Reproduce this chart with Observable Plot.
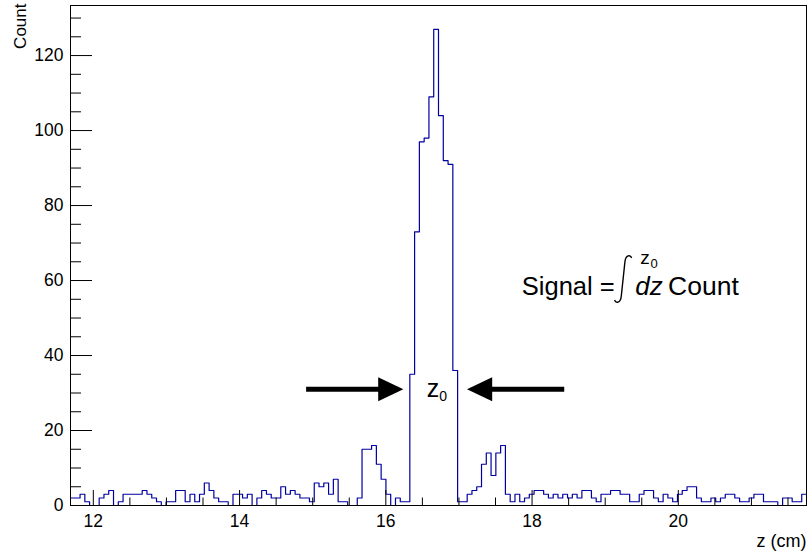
<!DOCTYPE html>
<html>
<head>
<meta charset="utf-8">
<script src="https://cdn.jsdelivr.net/npm/d3@7"></script>
<script src="https://cdn.jsdelivr.net/npm/@observablehq/plot@0.6"></script>
<style>
  html, body { margin: 0; padding: 0; background: #fff; }
  #chart svg { display: block; }
</style>
</head>
<body>
<div id="chart"></div>
<script>
// Histogram range (uniform bins between zLow and zHigh, in cm)
const zLow = 11.688;
const zHigh = 21.753;

// Entries per bin, left to right
const counts = [
  2, 2, 3, 1, 0, 0, 2, 3, 4, 0,
  1, 3, 3, 3, 3, 4, 3, 2, 1, 0,
  1, 1, 4, 4, 1, 3, 1, 3, 6, 4,
  2, 1, 1, 0, 3, 3, 2, 3, 0, 2,
  4, 3, 2, 2, 5, 3, 4, 3, 2, 2,
  1, 6, 5, 6, 3, 7, 1, 1, 0, 0,
  2, 15, 15, 16, 11, 7, 3, 0, 2, 1,
  1, 35, 73, 97, 98, 109, 127, 104, 92, 91,
  36, 1, 1, 3, 4, 5, 11, 14, 8, 14,
  16, 3, 1, 3, 1, 2, 3, 4, 4, 3,
  2, 3, 2, 3, 2, 3, 2, 4, 4, 2,
  1, 3, 3, 4, 4, 3, 3, 1, 1, 3,
  4, 4, 2, 1, 3, 2, 1, 3, 4, 5,
  5, 2, 1, 1, 2, 1, 2, 3, 3, 2,
  1, 1, 2, 3, 3, 1, 1, 1, 0, 2,
  2, 1, 1, 3
];

// Axis tick values
const xMajorTicks = [12, 14, 16, 18, 20];
const xMinorTicks = [12.5, 13, 13.5, 14.5, 15, 15.5, 16.5, 17, 17.5, 18.5, 19, 19.5, 20.5, 21, 21.5];
const yMajorTicks = [0, 20, 40, 60, 80, 100, 120];
const yMinorTicks = [5, 10, 15, 25, 30, 35, 45, 50, 55, 65, 70, 75, 85, 90, 95, 105, 110, 115, 125, 130];

// Window arrows around the peak
const arrowTail = [14.91, 18.44];
const arrowNeck = [15.95, 17.40];
const arrowTip = [16.24, 17.11];
const arrowLevel = [31, 31];
const arrowAngle = [0, 180];

// Text annotations
const noteText = ["Signal =", "dz", "Count", "z", "0", "z", "0"];
const noteZ = [17.86, 19.41, 19.86, 19.48, 19.62, 16.56, 16.73];
const noteN = [56.1, 56.1, 56.1, 64.3, 63.4, 29.0, 27.9];
const noteSize = [25.5, 26, 26.5, 19, 13, 25, 14];
const noteItalic = [false, true, false, false, false, false, false];
// integral sign position
const integralZ = 19.245;
const integralN = 60.4;

// ---- derived tables ----
const nBins = counts.length;
const binWidth = (zHigh - zLow) / nBins;
const steps = counts.map((n, i) => ({z: zLow + i * binWidth, n}));
steps.push({z: zHigh, n: counts[nBins - 1]});
const yMax = 1.05 * d3.max(counts);

const arrows = arrowTail.map((t, i) => ({
  tail: t, neck: arrowNeck[i], tip: arrowTip[i], level: arrowLevel[i], angle: arrowAngle[i]
}));
const notes = noteText.map((t, i) => ({
  text: t, z: noteZ[i], n: noteN[i], size: noteSize[i], italic: noteItalic[i]
}));

// filled triangular arrow head, tip at the origin pointing along +x
const arrowHead = {
  draw(ctx, size) {
    const r = Math.sqrt(size / Math.PI);
    ctx.moveTo(0, 0);
    ctx.lineTo(-2.1 * r, -r);
    ctx.lineTo(-2.1 * r, r);
    ctx.closePath();
  }
};

// thin integral sign, scaled by the dot radius (half height)
const integralSign = {
  draw(ctx, size) {
    const h = Math.sqrt(size / Math.PI);
    const k = h / 24;
    ctx.moveTo(8.5 * k, -21 * k);
    ctx.bezierCurveTo(7.5 * k, -24.5 * k, 2.5 * k, -24.5 * k, 1.8 * k, -17 * k);
    ctx.lineTo(-1.8 * k, 17 * k);
    ctx.bezierCurveTo(-2.5 * k, 24.5 * k, -7.5 * k, 24.5 * k, -8.5 * k, 21 * k);
  }
};

const W = 809, H = 554;
const mL = 70, mR = 3, mT = 5, mB = 49;
const fw = W - mL - mR, fh = H - mT - mB;

const chart = Plot.plot({
  width: W,
  height: H,
  marginLeft: mL,
  marginRight: mR,
  marginTop: mT,
  marginBottom: mB,
  x: {domain: [zLow, zHigh]},
  y: {domain: [0, yMax]},
  style: {
    fontFamily: "'Liberation Sans', Arial, Helvetica, sans-serif",
    background: "white",
    color: "black",
    overflow: "visible"
  },
  marks: [
    Plot.axisX(xMajorTicks, {tickSize: 0, tickPadding: 9, fontSize: 17.5, label: null, tickFormat: d => String(d)}),
    Plot.axisY(yMajorTicks, {tickSize: 0, tickPadding: 7, fontSize: 17.5, label: null, tickFormat: d => String(d)}),
    Plot.line(steps, {x: "z", y: "n", curve: "step-after", stroke: "#0000a0", strokeWidth: 1.2}),
    Plot.ruleX(xMajorTicks, {insetTop: fh - 15, stroke: "black"}),
    Plot.ruleX(xMinorTicks, {insetTop: fh - 7.5, stroke: "black"}),
    Plot.ruleY(yMajorTicks, {insetRight: fw - 22, stroke: "black"}),
    Plot.ruleY(yMinorTicks, {insetRight: fw - 11, stroke: "black"}),
    Plot.frame({stroke: "black"}),
    // axis titles
    Plot.text(["z (cm)"], {frameAnchor: "bottom-right", dy: 41, textAnchor: "end", lineAnchor: "bottom", fontSize: 18}),
    Plot.text(["Count"], {frameAnchor: "top-left", dx: -45, dy: -2, rotate: -90, textAnchor: "end", lineAnchor: "bottom", fontSize: 17}),
    // arrows
    Plot.link(arrows, {x1: "tail", x2: "neck", y1: "level", y2: "level", stroke: "black", strokeWidth: 5}),
    Plot.dot(arrows, {x: "tip", y: "level", r: 12, symbol: arrowHead, fill: "black", stroke: "none", rotate: "angle"}),
    // annotations
    Plot.text(notes, {filter: d => !d.italic, x: "z", y: "n", text: "text", fontSize: "size", textAnchor: "start", lineAnchor: "bottom"}),
    Plot.text(notes, {filter: d => d.italic, x: "z", y: "n", text: "text", fontSize: "size", fontStyle: "italic", textAnchor: "start", lineAnchor: "bottom"}),
    Plot.dot([{z: integralZ, n: integralN}], {x: "z", y: "n", r: 24, symbol: integralSign, fill: "none", stroke: "black", strokeWidth: 1.4})
  ]
});

document.getElementById("chart").appendChild(chart);
</script>
</body>
</html>
